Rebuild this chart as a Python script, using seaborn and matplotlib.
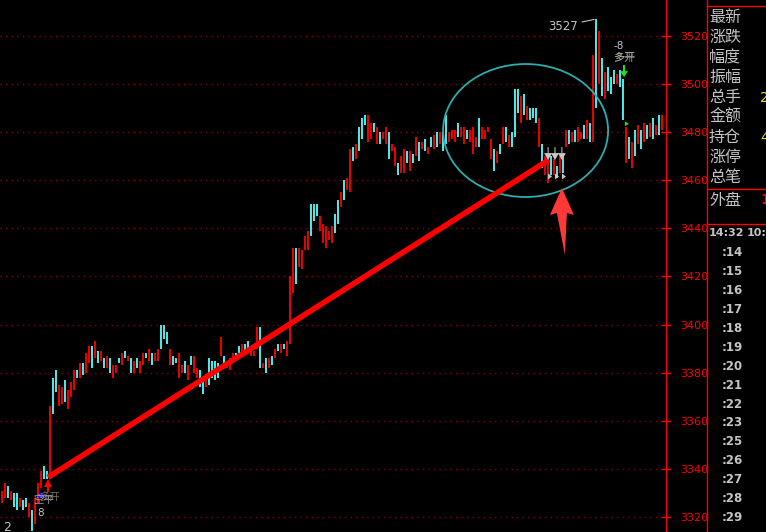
import matplotlib
matplotlib.use("Agg")
import matplotlib.pyplot as plt
import matplotlib.transforms as mtransforms
from matplotlib.patches import Ellipse, Polygon
import numpy as np
import pandas as pd
import seaborn as sns

# one bar every 3 px (low / high / r=up c=down)
lows = [3326, 3328, 3328, 3327, 3324, 3323, 3324, 3323, 3324, 3320,
        3314, 3317, 3326, 3332, 3336, 3336, 3336, 3363, 3372, 3366,
        3367, 3368, 3365, 3370, 3373, 3378, 3378, 3379, 3380, 3384,
        3382, 3386, 3384, 3385, 3382, 3382, 3380, 3378, 3380, 3384,
        3383, 3386, 3385, 3380, 3380, 3382, 3380, 3383, 3386, 3385,
        3383, 3385, 3385, 3390, 3394, 3392, 3383, 3383, 3384, 3378,
        3380, 3380, 3377, 3383, 3380, 3378, 3374, 3371, 3374, 3375,
        3378, 3377, 3378, 3387, 3382, 3382, 3381, 3384, 3385, 3388,
        3387, 3389, 3390, 3387, 3387, 3390, 3382, 3382, 3380, 3382,
        3383, 3386, 3389, 3388, 3390, 3387, 3392, 3413, 3417, 3424,
        3423, 3431, 3431, 3437, 3443, 3445, 3439, 3434, 3432, 3435,
        3434, 3438, 3442, 3449, 3452, 3456, 3455, 3468, 3469, 3472,
        3477, 3483, 3476, 3477, 3480, 3475, 3475, 3477, 3475, 3469,
        3472, 3466, 3462, 3463, 3463, 3467, 3464, 3467, 3470, 3468,
        3473, 3472, 3471, 3474, 3473, 3474, 3475, 3472, 3475, 3476,
        3477, 3476, 3478, 3478, 3475, 3477, 3476, 3471, 3474, 3474,
        3477, 3477, 3480, 3469, 3464, 3467, 3471, 3475, 3476, 3474,
        3474, 3478, 3488, 3484, 3487, 3485, 3485, 3486, 3484, 3474,
        3465, 3462, 3459, 3462, 3462, 3461, 3463, 3463, 3474, 3475,
        3476, 3476, 3476, 3477, 3477, 3477, 3476, 3476, 3490, 3500,
        3495, 3494, 3497, 3496, 3500, 3500, 3499, 3485, 3467, 3469,
        3465, 3470, 3475, 3473, 3476, 3477, 3478, 3477, 3479, 3479,
        3481]
highs = [3331, 3334, 3333, 3331, 3330, 3330, 3328, 3327, 3328, 3326,
         3323, 3328, 3334, 3339, 3341, 3339, 3366, 3378, 3381, 3375,
         3374, 3377, 3373, 3376, 3381, 3381, 3384, 3384, 3388, 3391,
         3391, 3393, 3389, 3389, 3386, 3387, 3386, 3383, 3383, 3386,
         3388, 3389, 3387, 3386, 3385, 3386, 3385, 3388, 3388, 3390,
         3388, 3388, 3390, 3400, 3400, 3397, 3390, 3387, 3386, 3388,
         3383, 3385, 3383, 3387, 3387, 3382, 3381, 3378, 3377, 3386,
         3385, 3385, 3384, 3395, 3387, 3385, 3386, 3388, 3388, 3391,
         3392, 3392, 3393, 3390, 3389, 3399, 3399, 3384, 3386, 3386,
         3387, 3390, 3392, 3392, 3392, 3393, 3420, 3432, 3432, 3432,
         3431, 3437, 3439, 3450, 3450, 3450, 3445, 3442, 3441, 3439,
         3441, 3446, 3452, 3455, 3460, 3461, 3473, 3474, 3475, 3482,
         3486, 3487, 3487, 3484, 3484, 3482, 3480, 3480, 3482, 3480,
         3475, 3474, 3467, 3470, 3473, 3472, 3472, 3471, 3478, 3476,
         3476, 3477, 3474, 3478, 3479, 3480, 3480, 3480, 3487, 3480,
         3481, 3481, 3484, 3482, 3482, 3481, 3481, 3482, 3478, 3486,
         3482, 3481, 3482, 3477, 3473, 3472, 3475, 3482, 3482, 3479,
         3480, 3498, 3498, 3495, 3496, 3491, 3490, 3490, 3490, 3486,
         3475, 3470, 3468, 3470, 3469, 3466, 3470, 3470, 3481, 3481,
         3480, 3481, 3482, 3480, 3483, 3485, 3484, 3512, 3527, 3522,
         3511, 3505, 3507, 3503, 3506, 3504, 3506, 3502, 3482, 3478,
         3476, 3481, 3483, 3481, 3484, 3483, 3484, 3486, 3483, 3487,
         3487]
dirs = ("rrcrccrccrcrrrccrccrrcrrrcrcrrcrcrcrcrrcrcrcrcrrcrcr"
        "rcccrccrrcrcrrccrccccrcrrrccrccrrrcrcrcrcrcrrrcrrrrc"
        "ccrrrrrccrcrrcrcccrrcrcrrcrrcrrcrcrcrcrcrcrccrrrcrrc"
        "rrrcrrrrcrcrcrcccrcrcccrcrrcrcrcrcrcrrcrcrcrcrcccrcc"
        "rcrcrcrcrcrcr")
price_ticks = [3320, 3340, 3360, 3380, 3400, 3420, 3440, 3460, 3480, 3500, 3520]

trend_x = [15.5, 182.5]
trend_y = [3336.5, 3468.5]
circle_center = (174.7, 3480.7)
circle_size = (55.0, 55.3)

panel_labels = ["最新", "涨跌", "幅度", "振幅", "总手", "金额", "持仓", "涨停", "总笔"]
time_head = ["14:32", "10:"]
time_labels = [":14", ":15", ":16", ":17", ":18", ":19", ":20", ":21",
               ":22", ":23", ":25", ":26", ":27", ":28", ":29"]

RED = "#ff0000"
CYAN = "#54ffff"
GRID = "#8a0000"
GREY = "#c4c4c4"

sns.set_theme(style="dark", rc={"axes.facecolor": "black", "figure.facecolor": "black"})
plt.rcParams["font.family"] = ["DejaVu Sans", "Noto Sans CJK SC"]

fig = plt.figure(figsize=(7.66, 5.32), dpi=100)
ax = fig.add_axes([0, 0, 666 / 766, 1])
ax.set_facecolor("black")

n = min(len(lows), len(highs), len(dirs))
bars = pd.DataFrame({"i": np.arange(n), "low": lows[:n], "high": highs[:n],
                     "up": [d == "r" for d in dirs[:n]]})
cols = np.where(bars["up"], RED, CYAN)
ax.vlines(bars["i"], bars["low"], bars["high"], colors=cols, lw=1.3, zorder=3)

ax.set_xlim(-0.5, 221.5)
ax.set_ylim(3313.76, 3534.97)

# axis on the right, red labels, dotted dark red grid
ax.yaxis.tick_right()
ax.set_yticks(price_ticks)
ax.set_yticklabels([str(t) for t in price_ticks])
ax.tick_params(axis="y", colors=RED, labelcolor=RED, direction="inout",
               length=7, width=1, pad=7, labelsize=8)
ax.set_xticks([])
for s in ["top", "left", "bottom"]:
    ax.spines[s].set_visible(False)
ax.spines["right"].set_color(RED)
ax.spines["right"].set_linewidth(1)
ax.grid(axis="y", color=GRID, linestyle=(0, (1, 3)), lw=1)
ax.grid(axis="x", visible=False)

# drawn-on trend line and circle
sns.lineplot(x=trend_x, y=trend_y, ax=ax, color=RED, lw=4, zorder=5,
             solid_capstyle="butt")
ax.add_patch(Ellipse(circle_center, circle_size[0], circle_size[1], fill=False,
                     ec="#2aaeb0", lw=1.3, zorder=4))


def px_shape(ix, price, verts, **kw):
    # shape given in screen pixels around a data anchor
    tr = fig.dpi_scale_trans + mtransforms.ScaledTranslation(ix, price, ax.transData)
    ax.add_patch(Polygon([(vx / 100, vy / 100) for vx, vy in verts],
                         closed=True, transform=tr, **kw))


# big red arrow under the circle
px_shape(186.8, 3456.8, [(0, 0), (12, -27), (5, -25), (3, -67), (-5, -25), (-12, -27)],
         fc="#ff3838", ec="none", zorder=6)

# peak label
pk = int(np.argmax(highs))
ax.annotate("3527", xy=(pk, highs[pk]), xytext=(-13, -5), textcoords="offset points",
            ha="right", va="center", color=GREY, fontsize=8.5,
            arrowprops=dict(arrowstyle="-", color=GREY, lw=0.8, shrinkA=1, shrinkB=1))

# trade marks top right
ax.annotate("-8", xy=(205.8, 3499), xytext=(0, 29), textcoords="offset points",
            color="#b8c4d8", fontsize=7.5, ha="center", va="center")
ax.annotate("多开", xy=(207.5, 3499), xytext=(0, 20.5), textcoords="offset points",
            color="#b0bcd0", fontsize=8, ha="center", va="center", alpha=0.85)
ax.annotate("多平", xy=(207.5, 3499), xytext=(0, 20.5), textcoords="offset points",
            color="#c8b898", fontsize=8, ha="center", va="center", alpha=0.6)
px_shape(207.5, 3507.9, [(-1, 0), (-1, -6), (-4, -6), (0, -12), (4, -6), (1, -6), (1, 0)],
         fc="#20e020", ec="none", zorder=6)
px_shape(207.8, 3483.5, [(0, 2.5), (4, 0), (0, -2.5)], fc="#20e020", ec="none", zorder=6)

# grey marks near the low inside the circle
for gx in [182.2, 184.5, 186.8]:
    px_shape(gx, 3473.8, [(-0.5, 0), (-0.5, -6), (-4, -6), (0, -13), (4, -6), (0.5, -6), (0.5, 0)],
             fc="#c8c8c8", ec="none", zorder=6)
    px_shape(gx, 3461.6, [(0, 3), (4, 0), (0, -3)], fc="#c8c8c8", ec="none", zorder=6)

# marks at the bottom left
px_shape(15.5, 3335.8, [(0, 0), (4, -8), (1, -8), (1, -13), (-1, -13), (-1, -8), (-4, -8)],
         fc=RED, ec="none", zorder=6)
px_shape(13.2, 3330.5, [(0, 0), (4, -6), (-4, -6)], fc="#2020ff", ec="none", zorder=6)
ax.text(10.5, 3327.0, "空平", color="#c0c0c0", fontsize=7.5, ha="left", va="center",
        alpha=0.8, zorder=7)
ax.text(12.5, 3328.5, "多开", color="#c8b898", fontsize=7.5, ha="left", va="center",
        alpha=0.6, zorder=7)
ax.text(12.0, 3321.5, "8", color="#c0c0c0", fontsize=7.5, ha="left", va="center", zorder=7)
ax.text(0.6, 3315.5, "2", color=GREY, fontsize=9, ha="left", va="center", zorder=7)

# quote panel on the far right
pax = fig.add_axes([666 / 766, 0, 100 / 766, 1])
pax.set_xlim(666, 766)
pax.set_ylim(532, 0)
pax.axis("off")
pax.patch.set_alpha(0)
pax.plot([707, 707], [0, 532], color=RED, lw=1)
for hy in [6, 189, 224]:
    pax.plot([707, 766], [hy, hy], color=RED, lw=1)
for k, lab in enumerate(panel_labels):
    pax.text(709, 17.5 + 20 * k, lab, color=GREY, fontsize=11.5, va="center", ha="left",
             family=["Noto Sans CJK SC"])
pax.text(760, 97.5, "2", color="#e0e000", fontsize=10, va="center", ha="left")
pax.text(760, 137.5, "4", color="#e0e000", fontsize=10, va="center", ha="left")
pax.text(709, 200, "外盘", color=GREY, fontsize=11.5, va="center", ha="left",
         family=["Noto Sans CJK SC"])
pax.text(760, 200, "1", color=RED, fontsize=10, fontweight="bold", va="center", ha="left")
pax.text(709, 233, time_head[0], color=GREY, fontsize=8, fontweight="bold", va="center", ha="left")
pax.text(747, 233, time_head[1], color=GREY, fontsize=8, fontweight="bold", va="center", ha="left")
for k, t in enumerate(time_labels):
    pax.text(743, 252.5 + 18.94 * k, t, color=GREY, fontsize=8.5, fontweight="bold",
             va="center", ha="right")

fig.savefig("out.png", dpi=100, facecolor="black")
